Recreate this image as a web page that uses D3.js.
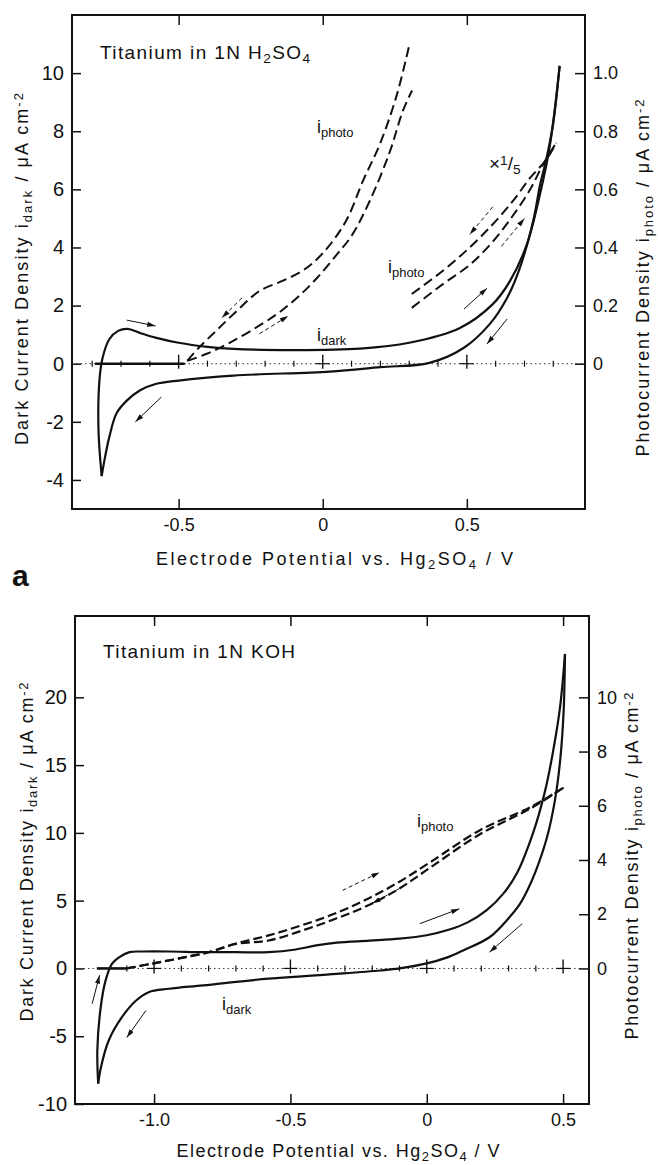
<!DOCTYPE html>
<html lang="en">
<head>
<meta charset="utf-8">
<title>Titanium dark and photocurrent</title>
<script src="https://cdn.jsdelivr.net/npm/d3@7"></script>
<style>
  body { margin: 0; background: #fff; }
  svg text { font-family: "Liberation Sans", Arial, sans-serif; fill: #111; }
  .axis text { font-size: 18px; }
  .axis line { stroke: #111; stroke-width: 1.5; }
  .axis path { display: none; }
</style>
</head>
<body>
<script>
// ---- panel a: Titanium in 1N H2SO4 (V vs Hg2SO4, i in uA/cm2) ----
var acidDarkUp = [[-0.767,-3.87],[-0.778,-2.3],[-0.775,-0.6],[-0.764,0.2],[-0.74,0.85],[-0.71,1.13],
  [-0.677,1.2],[-0.635,1.06],[-0.577,0.89],[-0.5,0.72],[-0.4,0.58],[-0.31,0.51],[-0.1,0.47],[0.13,0.52],
  [0.3,0.72],[0.476,1.23],[0.59,2.05],[0.65,2.85],[0.708,4.1],[0.753,5.8],[0.788,7.5],[0.822,10.25]];
var acidDarkDown = [[0.822,10.25],[0.80,8.3],[0.775,7.0],[0.755,6.2],[0.73,4.9],[0.684,3.3],[0.64,2.27],
  [0.58,1.37],[0.49,0.55],[0.37,0.03],[0.2,-0.12],[0.024,-0.27],[-0.31,-0.41],[-0.5,-0.58],[-0.58,-0.7],
  [-0.635,-0.92],[-0.68,-1.27],[-0.715,-1.7],[-0.74,-2.5],[-0.757,-3.3],[-0.767,-3.87]];
// photocurrent, right axis units
var acidPhotoUp = [[-0.47,0.01],[-0.43,0.055],[-0.37,0.113],[-0.30,0.18],[-0.22,0.25],[-0.14,0.285],
  [-0.07,0.32],[0.0,0.38],[0.08,0.49],[0.14,0.63],[0.2,0.76],[0.257,0.925],[0.30,1.095]];
var acidPhotoDown = [[-0.47,0.01],[-0.40,0.035],[-0.33,0.068],[-0.25,0.113],[-0.16,0.17],[-0.09,0.226],
  [-0.02,0.295],[0.05,0.377],[0.1,0.44],[0.163,0.56],[0.233,0.73],[0.278,0.87],[0.31,0.94]];
var acidFifthUp = [[0.309,0.24],[0.417,0.32],[0.51,0.40],[0.59,0.48],[0.66,0.56],[0.72,0.64],[0.778,0.705],[0.81,0.76]];
var acidFifthDown = [[0.309,0.192],[0.417,0.274],[0.51,0.34],[0.59,0.42],[0.66,0.51],[0.72,0.60],[0.764,0.685],[0.81,0.76]];
var acidPhotoBase = [[-0.79,0],[-0.48,0]];
var acidDarkArrows = [[-0.68,1.5,-0.58,1.3],[-0.56,-1.15,-0.65,-2.0],[0.49,1.88,0.57,2.6],[0.64,1.54,0.57,0.68]];
var acidPhotoArrows = [[-0.28,0.227,-0.35,0.158],[-0.22,0.103,-0.12,0.164],[0.59,0.54,0.51,0.445],[0.62,0.404,0.70,0.50]];
var acidXTicks = [-0.5, 0, 0.5];
var acidXLabels = ["-0.5", "0", "0.5"];
var acidLeftTicks = [-4, -2, 0, 2, 4, 6, 8, 10];
var acidLeftLabels = ["-4", "-2", "0", "2", "4", "6", "8", "10"];
var acidRightTicks = [0, 0.2, 0.4, 0.6, 0.8, 1.0];
var acidRightLabels = ["0", "0.2", "0.4", "0.6", "0.8", "1.0"];
var acidZeroTicks = [-0.8,-0.7,-0.6,-0.4,-0.3,-0.2,-0.1,0.1,0.2,0.3,0.4,0.6,0.7,0.8];
var acidZeroBig = [-0.5, 0, 0.5];

// ---- panel b: Titanium in 1N KOH ----
var kohDarkUp = [[-1.205,-8.5],[-1.208,-6.0],[-1.196,-2.9],[-1.178,-0.9],[-1.154,0.35],[-1.13,0.8],
  [-1.09,1.2],[-1.04,1.25],[-0.945,1.25],[-0.82,1.2],[-0.70,1.2],[-0.58,1.2],[-0.48,1.4],[-0.405,1.7],
  [-0.33,1.9],[-0.21,2.05],[-0.1,2.2],[0,2.45],[0.08,2.85],[0.15,3.4],[0.22,4.3],[0.28,5.5],[0.33,7.0],
  [0.39,10],[0.434,13.1],[0.464,16.1],[0.489,19.3],[0.507,23.2]];
var kohDarkDown = [[0.507,23.2],[0.502,19],[0.49,15.5],[0.47,12.4],[0.44,9.6],[0.40,7.2],[0.37,5.8],
  [0.34,4.7],[0.30,3.7],[0.23,2.3],[0.133,1.33],[0.073,0.8],[0,0.37],[-0.1,0.0],[-0.17,-0.15],[-0.33,-0.4],
  [-0.58,-0.75],[-0.82,-1.25],[-0.945,-1.5],[-1.02,-1.75],[-1.068,-2.4],[-1.118,-3.6],[-1.166,-5.3],
  [-1.195,-7.3],[-1.205,-8.5]];
var kohPhotoUp = [[-1.10,0],[-1.006,0.18],[-0.908,0.37],[-0.80,0.6],[-0.70,0.92],[-0.58,1.22],[-0.456,1.6],
  [-0.33,2.05],[-0.21,2.6],[-0.1,3.2],[0.01,3.9],[0.195,5.1],[0.38,5.95],[0.507,6.7]];
var kohPhotoDown = [[-1.10,0],[-1.006,0.18],[-0.908,0.37],[-0.80,0.6],[-0.70,0.9],[-0.58,1.03],[-0.456,1.4],
  [-0.33,1.85],[-0.21,2.35],[-0.1,2.95],[0.01,3.7],[0.195,4.95],[0.38,5.9],[0.507,6.7]];
var kohPhotoBase = [[-1.21,0],[-1.10,0]];
var kohDarkArrows = [[-1.227,-2.6,-1.20,-0.5],[-1.03,-3.1,-1.10,-5.1],[-0.026,3.3,0.12,4.4],[0.35,3.3,0.23,1.2]];
var kohPhotoArrows = [[-0.309,2.88,-0.173,3.54],[-0.10,2.95,-0.20,2.4]];
var kohXTicks = [-1.0, -0.5, 0, 0.5];
var kohXLabels = ["-1.0", "-0.5", "0", "0.5"];
var kohLeftTicks = [-10, -5, 0, 5, 10, 15, 20];
var kohLeftLabels = ["-10", "-5", "0", "5", "10", "15", "20"];
var kohRightTicks = [0, 2, 4, 6, 8, 10];
var kohRightLabels = ["0", "2", "4", "6", "8", "10"];
var kohZeroTicks = [-1.1,-0.9,-0.8,-0.7,-0.6,-0.4,-0.3,-0.2,-0.1,0.1,0.2,0.3,0.4];
var kohZeroBig = [-1.0, -0.5, 0, 0.5];

var W = 658, H = 1165;
var svg = d3.select("body").append("svg").attr("width", W).attr("height", H);

svg.append("defs").append("marker")
    .attr("id", "arr").attr("viewBox", "0 0 10 6").attr("refX", 10).attr("refY", 3)
    .attr("markerWidth", 9).attr("markerHeight", 5).attr("markerUnits", "userSpaceOnUse")
    .attr("orient", "auto")
  .append("path").attr("d", "M0,0L10,3L0,6Z").attr("fill", "#111");

// text with sub/superscript parts: [text, "sub"|"sup"]
function rich(g, x, y, parts, size, opts) {
  opts = opts || {};
  var t = g.append("text").attr("x", x).attr("y", y).style("font-size", size + "px");
  if (opts.anchor) t.attr("text-anchor", opts.anchor);
  if (opts.rotate) t.attr("transform", "rotate(" + opts.rotate + "," + x + "," + y + ")");
  if (opts.spacing) t.style("letter-spacing", opts.spacing + "px");
  if (opts.length) t.attr("textLength", opts.length).attr("lengthAdjust", "spacing");
  parts.forEach(function(p) {
    var s = t.append("tspan").text(p[0]);
    if (p[1] === "sub") s.attr("baseline-shift", "-28%").style("font-size", (size * 0.72) + "px");
    if (p[1] === "sup") s.attr("baseline-shift", "38%").style("font-size", (size * 0.72) + "px");
  });
  return t;
}

function panel(cfg) {
  var x = d3.scaleLinear().domain(cfg.xDomain).range([cfg.left, cfg.right]);
  var yL = d3.scaleLinear().domain(cfg.yLDomain).range([cfg.bottom, cfg.top]);
  var yR = d3.scaleLinear().domain(cfg.yRDomain).range([cfg.bottom, cfg.top]);
  var g = svg.append("g");

  // frame
  g.append("rect").attr("x", cfg.left).attr("y", cfg.top)
    .attr("width", cfg.right - cfg.left).attr("height", cfg.bottom - cfg.top)
    .attr("fill", "none").attr("stroke", "#111").attr("stroke-width", 2);

  g.append("g").attr("class", "axis").attr("transform", "translate(0," + cfg.bottom + ")")
    .call(d3.axisBottom(x).tickValues(cfg.xTicks).tickSize(-10).tickPadding(9)
      .tickFormat(function(d, i) { return cfg.xLabels[i]; }));
  g.append("g").attr("class", "axis").attr("transform", "translate(0," + cfg.top + ")")
    .call(d3.axisTop(x).tickValues(cfg.xTicks).tickSize(-10).tickFormat(""));
  g.append("g").attr("class", "axis left").attr("transform", "translate(" + cfg.left + ",0)")
    .call(d3.axisLeft(yL).tickValues(cfg.yLTicks).tickSize(-9).tickPadding(8)
      .tickFormat(function(d, i) { return cfg.yLLabels[i]; }));
  g.append("g").attr("class", "axis").attr("transform", "translate(" + cfg.right + ",0)")
    .call(d3.axisRight(yR).tickValues(cfg.yRTicks).tickSize(-10).tickPadding(8)
      .tickFormat(function(d, i) { return cfg.yRLabels[i]; }));
  g.selectAll(".left text").style("font-size", "20px");

  // zero line of the photocurrent with its scale marks
  var y0 = yR(0);
  g.append("line").attr("x1", cfg.left + 4).attr("x2", cfg.right).attr("y1", y0).attr("y2", y0)
    .attr("stroke", "#333").attr("stroke-width", 1).attr("stroke-dasharray", "1.5,3");
  g.selectAll(".zt").data(cfg.zeroTicks).enter().append("line")
    .attr("x1", function(d) { return x(d); }).attr("x2", function(d) { return x(d); })
    .attr("y1", y0 - 3).attr("y2", y0 + 3).attr("stroke", "#111").attr("stroke-width", 1.2);
  g.selectAll(".zb").data(cfg.zeroBig).enter().append("line")
    .attr("x1", function(d) { return x(d); }).attr("x2", function(d) { return x(d); })
    .attr("y1", y0 - 9).attr("y2", y0 + 5).attr("stroke", "#111").attr("stroke-width", 1.4);
  g.selectAll(".zh").data(cfg.zeroBig).enter().append("line")
    .attr("x1", function(d) { return x(d) - 7; }).attr("x2", function(d) { return x(d) + 7; })
    .attr("y1", y0).attr("y2", y0).attr("stroke", "#111").attr("stroke-width", 1.2);

  var lineL = d3.line().x(function(d) { return x(d[0]); }).y(function(d) { return yL(d[1]); })
    .curve(d3.curveCatmullRom.alpha(0.5));
  var lineR = d3.line().x(function(d) { return x(d[0]); }).y(function(d) { return yR(d[1]); })
    .curve(d3.curveCatmullRom.alpha(0.5));

  g.append("path").attr("d", lineR(cfg.photoBase)).attr("fill", "none")
    .attr("stroke", "#111").attr("stroke-width", 2.6);

  cfg.dark.forEach(function(s) {
    g.append("path").attr("d", lineL(s)).attr("fill", "none")
      .attr("stroke", "#111").attr("stroke-width", 2.2);
  });
  cfg.photo.forEach(function(s) {
    g.append("path").attr("d", lineR(s)).attr("fill", "none")
      .attr("stroke", "#111").attr("stroke-width", cfg.dashWidth).attr("stroke-dasharray", cfg.dash);
  });

  cfg.darkArrows.forEach(function(a) {
    g.append("line").attr("x1", x(a[0])).attr("y1", yL(a[1])).attr("x2", x(a[2])).attr("y2", yL(a[3]))
      .attr("stroke", "#111").attr("stroke-width", 1).attr("marker-end", "url(#arr)");
  });
  cfg.photoArrows.forEach(function(a) {
    g.append("line").attr("x1", x(a[0])).attr("y1", yR(a[1])).attr("x2", x(a[2])).attr("y2", yR(a[3]))
      .attr("stroke", "#111").attr("stroke-width", 1).attr("stroke-dasharray", "4,3")
      .attr("marker-end", "url(#arr)");
  });

  // titles
  rich(g, cfg.left + 28, cfg.titleY, cfg.title, 19, { spacing: 1.4 });
  rich(g, (cfg.left + cfg.right) / 2 + 6, cfg.xLabelY,
    [["Electrode  Potential  vs.  Hg"], ["2", "sub"], ["SO"], ["4", "sub"], ["  /  V"]], 18,
    { anchor: "middle", length: cfg.xLabelLen });
  rich(g, cfg.yLabelLX, cfg.yLabelLY,
    [["Dark  Current  Density  i"], ["dark", "sub"], ["  /  \u03bcA cm"], ["-2", "sup"]], 18,
    { anchor: "middle", rotate: -90, length: cfg.yLabelLLen });
  rich(g, cfg.yLabelRX, cfg.yLabelRY,
    [["Photocurrent  Density  i"], ["photo", "sub"], ["  /  \u03bcA cm"], ["-2", "sup"]], 18,
    { anchor: "middle", rotate: -90, length: cfg.yLabelRLen });
  cfg.notes.forEach(function(n) { rich(g, n.x, n.y, n.parts, n.size || 18); });
  return g;
}

panel({
  left: 72, right: 585, top: 15, bottom: 509,
  xDomain: [-0.87, 0.91], yLDomain: [-5, 12], yRDomain: [-0.5, 1.2],
  xTicks: acidXTicks, xLabels: acidXLabels,
  yLTicks: acidLeftTicks, yLLabels: acidLeftLabels,
  yRTicks: acidRightTicks, yRLabels: acidRightLabels,
  zeroTicks: acidZeroTicks, zeroBig: acidZeroBig,
  dark: [acidDarkUp, acidDarkDown],
  photo: [acidPhotoUp, acidPhotoDown, acidFifthUp, acidFifthDown],
  photoBase: acidPhotoBase,
  darkArrows: acidDarkArrows, photoArrows: acidPhotoArrows,
  dash: "10,5", dashWidth: 2,
  title: [["Titanium  in  1N  H"], ["2", "sub"], ["SO"], ["4", "sub"]], titleY: 59,
  xLabelY: 565, xLabelLen: 357,
  yLabelLX: 28, yLabelLY: 269, yLabelLLen: 352,
  yLabelRX: 649, yLabelRY: 278, yLabelRLen: 357,
  notes: [
    { x: 317, y: 133, parts: [["i"], ["photo", "sub"]] },
    { x: 388, y: 273, parts: [["i"], ["photo", "sub"]] },
    { x: 317, y: 341, parts: [["i"], ["dark", "sub"]] },
    { x: 489, y: 170, parts: [["\u00d7"], ["1", "sup"], ["/"], ["5", "sub"]], size: 19 }
  ]
});

panel({
  left: 75, right: 589, top: 616, bottom: 1104,
  xDomain: [-1.29, 0.595], yLDomain: [-10, 26], yRDomain: [-5, 13],
  xTicks: kohXTicks, xLabels: kohXLabels,
  yLTicks: kohLeftTicks, yLLabels: kohLeftLabels,
  yRTicks: kohRightTicks, yRLabels: kohRightLabels,
  zeroTicks: kohZeroTicks, zeroBig: kohZeroBig,
  dark: [kohDarkUp, kohDarkDown],
  photo: [kohPhotoUp, kohPhotoDown],
  photoBase: kohPhotoBase,
  darkArrows: kohDarkArrows, photoArrows: kohPhotoArrows,
  dash: "9,4", dashWidth: 2.2,
  title: [["Titanium  in  1N  KOH"]], titleY: 658,
  xLabelY: 1157, xLabelLen: 323,
  yLabelLX: 33, yLabelLY: 852, yLabelLLen: 339,
  yLabelRX: 638, yLabelRY: 866, yLabelRLen: 347,
  notes: [
    { x: 417, y: 827, parts: [["i"], ["photo", "sub"]] },
    { x: 222, y: 1010, parts: [["i"], ["dark", "sub"]] }
  ]
});

svg.append("text").attr("x", 12).attr("y", 586).text("a")
  .style("font-size", "30px").style("font-weight", "bold");
</script>
</body>
</html>
